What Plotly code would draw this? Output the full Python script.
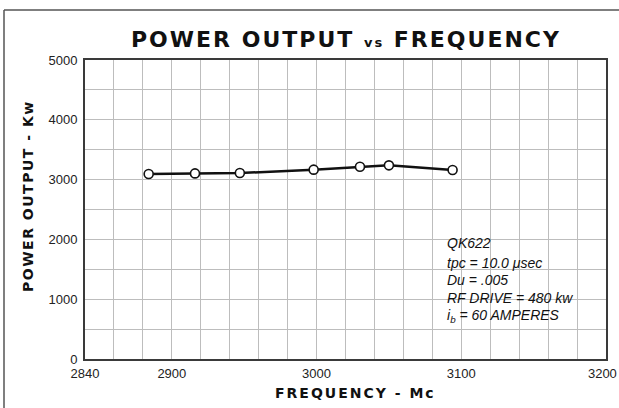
import plotly.graph_objects as go

# Data
frequency_mc = [2884, 2916, 2947, 2998, 3030, 3050, 3094]
power_kw = [3094, 3104, 3110, 3166, 3216, 3238, 3161]

x_tickvals = [2840, 2900, 3000, 3100, 3200]
x_ticktext = ["2840", "2900", "3000", "3100", "3200&nbsp;&nbsp;"]
y_tickvals = [0, 1000, 2000, 3000, 4000, 5000]

note_lines = [
    "QK622",
    "tpc = 10.0 μsec",
    "Du = .005",
    "RF DRIVE = 480 kw",
    "i<sub>b</sub> = 60 AMPERES",
]
note_y = [1936, 1602, 1313, 1023, 727]

W, H = 619, 408
L, R, T, B = 85, 13, 60, 49
pw, ph = W - L - R, H - T - B

def px(xp):
    return (xp - L) / pw

def py(yp):
    return (H - B - yp) / ph

fig = go.Figure()
fig.add_trace(go.Scatter(
    x=frequency_mc, y=power_kw, mode="lines+markers",
    line=dict(color="#111111", width=2.5),
    marker=dict(symbol="circle", size=9, color="white",
                line=dict(color="#111111", width=1.6)),
    showlegend=False, hoverinfo="skip",
))

grid = "#bdbdbd"
fig.update_xaxes(
    range=[2840, 3200], tickmode="array", tickvals=x_tickvals, ticktext=x_ticktext,
    showgrid=False, zeroline=False, automargin=False,
    showline=True, linecolor="#3a3a3a", linewidth=2, mirror=True,
    ticks="", ticklabelstandoff=1, ticklabeloverflow="allow",
    tickfont=dict(family="Liberation Sans", size=13, color="#222"),
    minor=dict(dtick=20, tick0=2840, showgrid=True, gridcolor=grid, gridwidth=1),
)
fig.update_yaxes(
    range=[0, 5000], tickmode="array", tickvals=y_tickvals,
    showgrid=False, zeroline=False, automargin=False,
    showline=True, linecolor="#3a3a3a", linewidth=2, mirror=True,
    ticks="", ticklabelstandoff=3,
    tickfont=dict(family="Liberation Sans", size=13, color="#222"),
    minor=dict(dtick=500, tick0=0, showgrid=True, gridcolor=grid, gridwidth=1),
)

def spaced(s, ls):
    return "<span style='letter-spacing:%spx'>%s</span>" % (ls, s)

annotations = [
    dict(text="<b>" + spaced("POWER OUTPUT <span style='font-size:13px'>vs</span> FREQUENCY", 2) + "</b>",
         x=px(346), y=py(39.5), xref="paper", yref="paper", showarrow=False,
         xanchor="center", yanchor="middle",
         font=dict(family="DejaVu Sans", size=22, color="#111")),
    dict(text="<b>" + spaced("POWER OUTPUT - Kw", 1.5) + "</b>", x=px(28), y=py(196),
         xref="paper", yref="paper",
         showarrow=False, textangle=-90, xanchor="center", yanchor="middle",
         font=dict(family="DejaVu Sans", size=14, color="#111")),
    dict(text="<b>" + spaced("FREQUENCY - Mc", 2) + "</b>", x=px(355), y=py(393),
         xref="paper", yref="paper",
         showarrow=False, xanchor="center", yanchor="middle",
         font=dict(family="DejaVu Sans", size=14, color="#111")),
]
for t, yv in zip(note_lines, note_y):
    annotations.append(dict(
        text="<i>" + t + "</i>", x=3089, y=yv, xref="x", yref="y", showarrow=False,
        xanchor="left", yanchor="middle",
        font=dict(family="Liberation Sans", size=14, color="#111")))

fig.update_layout(
    width=W, height=H, margin=dict(l=L, r=R, t=T, b=B, pad=0),
    paper_bgcolor="white", plot_bgcolor="white",
    annotations=annotations,
    shapes=[
        dict(type="line", xref="paper", yref="paper", x0=px(4), x1=px(619),
             y0=py(10), y1=py(10), line=dict(color="#555", width=1.5)),
        dict(type="line", xref="paper", yref="paper", x0=px(4), x1=px(4),
             y0=py(10), y1=py(408), line=dict(color="#555", width=1.5)),
    ],
)

fig.write_html("out.html", config={"displayModeBar": False},
               post_script="document.body.style.margin='0';document.body.style.overflow='hidden';")
